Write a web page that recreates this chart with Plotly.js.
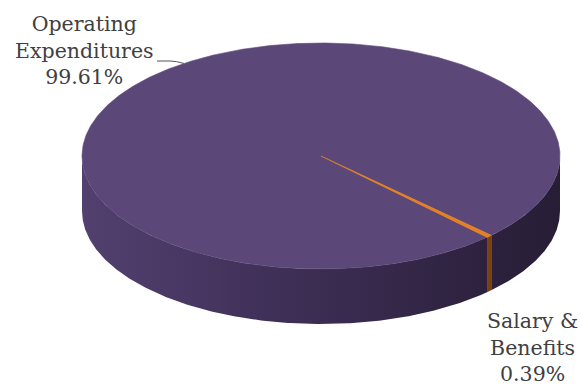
<!DOCTYPE html>
<html>
<head>
<meta charset="utf-8">
<script src="https://cdn.plot.ly/plotly-3.0.1.min.js"></script>
<style>html,body{margin:0;padding:0;background:#fff}#chart{width:582px;height:387px}</style>
</head>
<body>
<div id="chart"></div>
<script>
// ---- data ----
const labels = ['Operating<br>Expenditures', 'Salary &<br>Benefits'];
const values = [99.61, 0.39];
const pctText = ['99.61%', '0.39%'];

// ---- geometry / style (not data) ----
const CX = 321, CY = 156, RA = 239, RB = 113, DEPTH = 55;
const ROTATION = 46; // degrees, clockwise from 3 o'clock (screen)
const topColors = ['#5c4878', '#e6801f'];
const sideScales = [
  [[0, '#52406f'], [0.45, '#3d2e55'], [1, '#271d35']],
  [[0, '#8a4a14'], [1, '#7a3f10']]
];

function ell(t, dy) {
  const r = t * Math.PI / 180;
  return [CX + RA * Math.cos(r), CY + RB * Math.sin(r) + (dy || 0)];
}
function arc(t0, t1, dy) {
  const xs = [], ys = [];
  const n = Math.max(2, Math.ceil(Math.abs(t1 - t0) / 0.5));
  for (let i = 0; i <= n; i++) {
    const p = ell(t0 + (t1 - t0) * i / n, dy);
    xs.push(p[0]); ys.push(p[1]);
  }
  return [xs, ys];
}

const total = values.reduce((a, b) => a + b, 0);
const slices = [];
let acc = ROTATION;
values.forEach((v, i) => {
  const span = v / total * 360;
  slices.push({t0: acc, t1: acc + span, i});
  acc += span;
});

const traces = [];
// side faces (front half: 0..180 deg screen)
slices.forEach(s => {
  const segs = [];
  for (let k = -1; k <= 1; k++) {
    const a = Math.max(s.t0 - 360 * k, 0), b = Math.min(s.t1 - 360 * k, 180);
    if (b > a) segs.push([a, b]);
  }
  segs.forEach(([a, b]) => {
    const top = arc(a, b, 0), bot = arc(b, a, DEPTH);
    traces.push({
      type: 'scatter', mode: 'lines',
      x: top[0].concat(bot[0]), y: top[1].concat(bot[1]),
      fill: 'toself', line: {width: 0},
      fillgradient: {type: 'horizontal', colorscale: sideScales[s.i], start: CX - RA, stop: CX + RA},
      hoverinfo: 'skip', showlegend: false
    });
  });
});
// top faces
slices.forEach(s => {
  const a = arc(s.t0, s.t1, 0);
  traces.push({
    type: 'scatter', mode: 'lines',
    x: [CX].concat(a[0], [CX]), y: [CY].concat(a[1], [CY]),
    fill: 'toself', fillcolor: topColors[s.i], line: {width: 0.6, color: topColors[s.i]},
    hoverinfo: 'skip', showlegend: false, name: labels[s.i]
  });
});

// leader line for first label
const lp = ell(235, 0);
const font = {family: 'DejaVu Serif, Liberation Serif, serif', size: 20.5, color: '#404040'};
const layout = {
  width: 582, height: 387,
  margin: {l: 0, r: 0, t: 0, b: 0},
  paper_bgcolor: '#fff', plot_bgcolor: '#fff',
  xaxis: {range: [0, 582], visible: false, fixedrange: true},
  yaxis: {range: [387, 0], visible: false, fixedrange: true},
  shapes: [{
    type: 'path', xref: 'x', yref: 'y',
    path: `M 157 61 L 170 61 Q 176 61 ${lp[0]} ${lp[1]}`,
    line: {color: '#555', width: 1}
  }],
  annotations: [
    {x: 84, y: 50, xref: 'x', yref: 'y', text: labels[0] + '<br>' + pctText[0], showarrow: false,
     font: font, align: 'center', xanchor: 'center', yanchor: 'middle'},
    {x: 532, y: 347, xref: 'x', yref: 'y', text: labels[1] + '<br>' + pctText[1], showarrow: false,
     font: font, align: 'center', xanchor: 'center', yanchor: 'middle'}
  ]
};
Plotly.newPlot('chart', traces, layout, {displayModeBar: false, staticPlot: true});
</script>
</body>
</html>
